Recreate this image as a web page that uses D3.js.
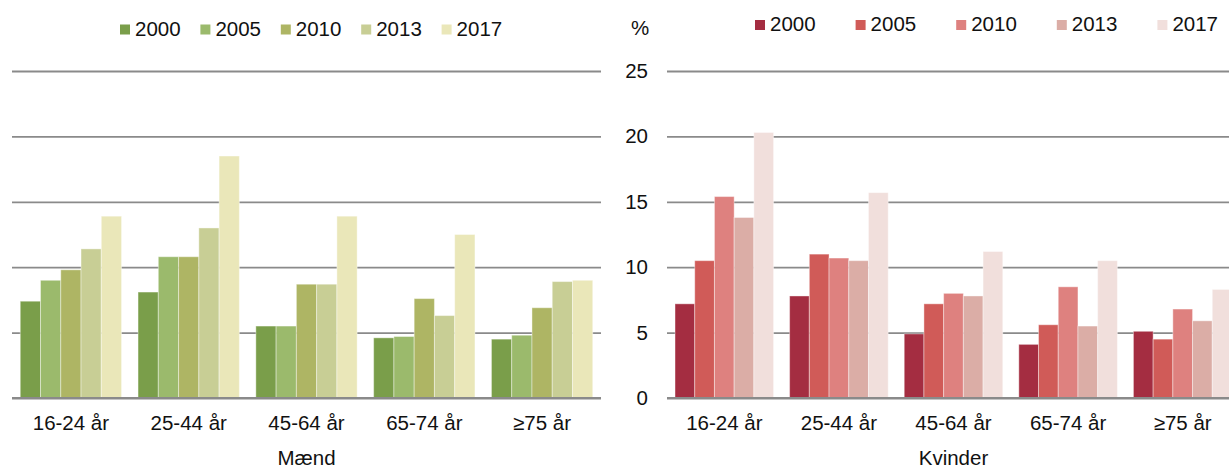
<!DOCTYPE html>
<html>
<head>
<meta charset="utf-8">
<script src="https://cdn.jsdelivr.net/npm/d3@7/dist/d3.min.js"></script>
<style>
body{margin:0;background:#fff;}
svg text{font-family:"Liberation Sans",Arial,sans-serif;fill:#111;}
</style>
</head>
<body>
<div id="chart"></div>
<script>
//data
let categories=[`16-24 år`,`25-44 år`,`45-64 år`,`65-74 år`,`≥75 år`];
let years=[`2000`,`2005`,`2010`,`2013`,`2017`];
let yTicks=[0,5,10,15,20,25];

let maend2000=[7.4,8.1,5.5,4.6,4.5];
let maend2005=[9.0,10.8,5.5,4.7,4.8];
let maend2010=[9.8,10.8,8.7,7.6,6.9];
let maend2013=[11.4,13.0,8.7,6.3,8.9];
let maend2017=[13.9,18.5,13.9,12.5,9.0];

let kvinder2000=[7.2,7.8,4.9,4.1,5.1];
let kvinder2005=[10.5,11.0,7.2,5.6,4.5];
let kvinder2010=[15.4,10.7,8.0,8.5,6.8];
let kvinder2013=[13.8,10.5,7.8,5.5,5.9];
let kvinder2017=[20.3,15.7,11.2,10.5,8.3];

let greens=[`#7a9e4a`,`#9bba6c`,`#aeb564`,`#c8ce95`,`#eae7b9`];
let reds=[`#a42d41`,`#d05b58`,`#de817f`,`#dbada6`,`#f1dfdc`];

let Setting={
    width:1229,height:471,
    top:71,bottom:398,
    font:20.5
};

let svg=d3.select(`#chart`).append(`svg`)
    .attr(`width`,Setting.width)
    .attr(`height`,Setting.height);

let y=d3.scaleLinear().domain([0,25]).range([Setting.bottom,Setting.top]);

function drawPanel(opt){
    let x0=d3.scaleBand().domain(categories).range([opt.left,opt.right])
        .paddingInner(0.14).paddingOuter(0.07);
    let x1=d3.scaleBand().domain(years).range([0,x0.bandwidth()]);

    //gridlines (and y labels on right panel)
    let yAxis=svg.append(`g`)
        .attr(`class`,`y axis`)
        .attr(`transform`,`translate(${opt.left},0)`)
        .call(d3.axisLeft(y).tickValues(yTicks)
            .tickSize(-(opt.right-opt.left))
            .tickPadding(19)
            .tickFormat(opt.labels?d3.format(`d`):``));
    yAxis.select(`.domain`).remove();
    yAxis.selectAll(`line`).attr(`stroke`,`#8a8a8a`).attr(`stroke-width`,1.8);
    yAxis.selectAll(`text`).attr(`font-size`,Setting.font).attr(`fill`,`#111`)
        .attr(`font-family`,`"Liberation Sans",Arial,sans-serif`);

    //bars
    let rows=years.map((yr,i)=>({year:yr,values:opt.series[i],color:opt.colors[i]}));
    let g=svg.append(`g`).attr(`class`,`bars`);
    rows.forEach(r=>{
        g.selectAll(null)
        .data(r.values.map((v,j)=>({cat:categories[j],value:v})))
        .enter()
        .append(`rect`)
        .attr(`x`,d=>x0(d.cat)+x1(r.year))
        .attr(`y`,d=>y(d.value))
        .attr(`width`,x1.bandwidth())
        .attr(`height`,d=>y(0)-y(d.value))
        .attr(`fill`,r.color)
        .attr(`stroke`,`rgba(255,255,255,0.4)`)
        .attr(`stroke-width`,1);
    });

    //baseline on top of bars
    svg.append(`line`)
        .attr(`x1`,opt.left).attr(`x2`,opt.right)
        .attr(`y1`,y(0)).attr(`y2`,y(0))
        .attr(`stroke`,`#8a8a8a`).attr(`stroke-width`,1.8);

    //x axis labels
    let xAxis=svg.append(`g`)
        .attr(`class`,`x axis`)
        .attr(`transform`,`translate(0,${y(0)})`)
        .call(d3.axisBottom(x0).tickSize(0).tickPadding(17));
    xAxis.select(`.domain`).remove();
    xAxis.selectAll(`text`).attr(`font-size`,Setting.font).attr(`fill`,`#111`)
        .attr(`font-family`,`"Liberation Sans",Arial,sans-serif`);

    //title
    svg.append(`text`)
        .attr(`x`,(opt.left+opt.right)/2)
        .attr(`y`,465)
        .attr(`text-anchor`,`middle`)
        .attr(`font-size`,Setting.font)
        .text(opt.title);

    //legend
    let lg=svg.append(`g`).attr(`class`,`legend`);
    rows.forEach((r,i)=>{
        let lx=opt.legendX+i*opt.legendStep;
        lg.append(`rect`)
            .attr(`x`,lx).attr(`y`,opt.legendY-11)
            .attr(`width`,10).attr(`height`,10)
            .attr(`fill`,r.color);
        lg.append(`text`)
            .attr(`x`,lx+15).attr(`y`,opt.legendY)
            .attr(`font-size`,Setting.font)
            .text(r.year);
    });
}

drawPanel({
    left:12,right:601,
    series:[maend2000,maend2005,maend2010,maend2013,maend2017],
    colors:greens,labels:false,title:`Mænd`,
    legendX:120,legendStep:80.4,legendY:35.5
});

drawPanel({
    left:667,right:1240,
    series:[kvinder2000,kvinder2005,kvinder2010,kvinder2013,kvinder2017],
    colors:reds,labels:true,title:`Kvinder`,
    legendX:755,legendStep:100.6,legendY:31
});

//unit label
svg.append(`text`)
    .attr(`x`,640).attr(`y`,35)
    .attr(`text-anchor`,`middle`)
    .attr(`font-size`,Setting.font)
    .text(`%`);
</script>
</body>
</html>
